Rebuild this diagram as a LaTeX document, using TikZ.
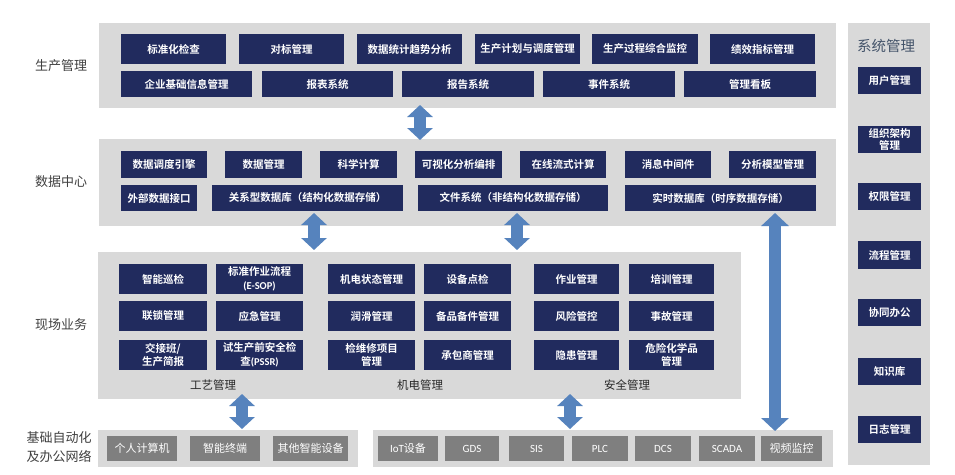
\documentclass[tikz,border=0pt]{standalone}
\usepackage{fontspec}
\setmainfont{Noto Sans CJK SC}[BoldFont={Noto Sans CJK SC Bold}]
\newfontfamily\lat{Carlito}
\usetikzlibrary{arrows.meta}
\definecolor{navy}{HTML}{212B5E}
\definecolor{panelc}{HTML}{D9D9D9}
\definecolor{grayb}{HTML}{7F7F7F}
\definecolor{arrowc}{HTML}{5683BD}
\definecolor{labc}{HTML}{404040}
\definecolor{sysc}{HTML}{44546A}
\newcommand\bx[7][nb]{\node[#1, minimum width={#5-#3}, minimum height={#6-#4}] (#2) at ({(#3+#5)/2},{(#4+#6)/2}) {#7};}
\begin{document}
\begin{tikzpicture}[x=1pt,y=-1pt,
  nb/.style={fill=navy, text=white, inner sep=0pt, align=center,
    font=\fontsize{10.5}{13.5}\selectfont\bfseries},
  panel/.style={fill=panelc, inner sep=0pt},
  gb/.style={fill=grayb, text=white, inner sep=0pt, align=center,
    font=\fontsize{11}{13}\selectfont},
  sidelab/.style={text=labc, align=center, font=\fontsize{13}{19}\selectfont},
  grplab/.style={text=black!85, font=\fontsize{11.5}{14}\selectfont},
  barr/.style={draw=arrowc, line width=12pt,
    {Triangle[width=25pt,length=12pt]}-{Triangle[width=25pt,length=12pt]}},
  barrbig/.style={draw=arrowc, line width=12.5pt,
    {Triangle[width=27pt,length=13pt]}-{Triangle[width=27pt,length=13pt]}}
]
\useasboundingbox[fill=white] (0,0) rectangle (955,474);

% ---------- panels ----------
\bx[panel]{pp}{99}{23}{836}{108}{}
\bx[panel]{dp}{99}{139}{836}{226}{}
\bx[panel]{fp}{98}{252}{741}{399}{}
\bx[panel]{blp}{98}{430}{358}{467}{}
\bx[panel]{brp}{373}{430}{833}{467}{}
\bx[panel]{sp}{848}{23}{930}{465}{}

% ---------- side labels ----------
\node[sidelab] (l1) at (61,66) {生产管理};
\node[sidelab] (l2) at (61,182) {数据中心};
\node[sidelab] (l3) at (61,325) {现场业务};
\node[sidelab] (l4) at (59,447) {基础自动化\\及办公网络};
\node[text=sysc, font=\fontsize{14.5}{17}\selectfont] (st) at (886,46) {系统管理};

% ---------- production ----------
\bx{p1}{121}{34}{226}{64}{标准化检查}
\bx{p2}{239}{34}{344}{64}{对标管理}
\bx{p3}{357}{34}{462}{64}{数据统计趋势分析}
\bx{p4}{475}{34}{580}{64}{生产计划与调度管理}
\bx{p5}{592}{34}{698}{64}{生产过程综合监控}
\bx{p6}{710}{34}{815}{64}{绩效指标管理}
\bx{p7}{121}{71}{252}{97}{企业基础信息管理}
\bx{p8}{262}{71}{393}{97}{报表系统}
\bx{p9}{402}{71}{534}{97}{报告系统}
\bx{p10}{543}{71}{675}{97}{事件系统}
\bx{p11}{684}{71}{816}{97}{管理看板}

% ---------- data center ----------
\bx{d1}{121}{151}{207}{178}{数据调度引擎}
\bx{d2}{225}{151}{302}{178}{数据管理}
\bx{d3}{320}{151}{397}{178}{科学计算}
\bx{d4}{415}{151}{502}{178}{可视化分析编排}
\bx{d5}{520}{151}{606}{178}{在线流式计算}
\bx{d6}{625}{151}{711}{178}{消息中间件}
\bx{d7}{729}{151}{816}{178}{分析模型管理}
\bx{d8}{121}{185}{197}{211}{外部数据接口}
\bx{d9}{212}{185}{403}{211}{关系型数据库（结构化数据存储）}
\bx{d10}{418}{185}{608}{211}{文件系统（非结构化数据存储）}
\bx{d11}{625}{185}{816}{211}{实时数据库（时序数据存储）}

% ---------- field ----------
\bx{f11}{119}{264}{207}{294}{智能巡检}
\bx{f12}{216}{264}{303}{294}{标准作业流程\\{\lat\bfseries (E-SOP)}}
\bx{f13}{328}{264}{415}{294}{机电状态管理}
\bx{f14}{424}{264}{511}{294}{设备点检}
\bx{f15}{534}{264}{619}{294}{作业管理}
\bx{f16}{629}{264}{714}{294}{培训管理}
\bx{f21}{119}{301}{207}{331}{联锁管理}
\bx{f22}{216}{301}{303}{331}{应急管理}
\bx{f23}{328}{301}{415}{331}{润滑管理}
\bx{f24}{424}{301}{511}{331}{备品备件管理}
\bx{f25}{534}{301}{619}{331}{风险管控}
\bx{f26}{629}{301}{714}{331}{事故管理}
\bx{f31}{119}{340}{207}{370}{交接班/\\生产简报}
\bx{f32}{216}{340}{303}{370}{试生产前安全检\\查{\lat\bfseries (PSSR)}}
\bx{f33}{328}{340}{415}{370}{检维修项目\\管理}
\bx{f34}{424}{340}{511}{370}{承包商管理}
\bx{f35}{534}{340}{619}{370}{隐患管理}
\bx{f36}{629}{340}{714}{370}{危险化学品\\管理}
\node[grplab] (g1) at (213,385) {工艺管理};
\node[grplab] (g2) at (420,385) {机电管理};
\node[grplab] (g3) at (627,385) {安全管理};

% ---------- bottom ----------
\bx[gb]{b1}{107}{436}{177}{461}{个人计算机}
\bx[gb]{b2}{190}{436}{260}{461}{智能终端}
\bx[gb]{b3}{273}{436}{348}{461}{其他智能设备}
\bx[gb]{c1}{378}{436}{438}{461}{{\lat IoT}设备}
\bx[gb]{c2}{445}{436}{499}{461}{\lat GDS}
\bx[gb]{c3}{509}{436}{564}{461}{\lat SIS}
\bx[gb]{c4}{572}{436}{628}{461}{\lat PLC}
\bx[gb]{c5}{635}{436}{691}{461}{\lat DCS}
\bx[gb]{c6}{699}{436}{755}{461}{\lat SCADA}
\bx[gb]{c7}{761}{436}{822}{461}{视频监控}

% ---------- system ----------
\bx{s1}{858}{67}{921}{94}{用户管理}
\bx{s2}{858}{126}{921}{153}{组织架构\\[-2pt]管理}
\bx{s3}{858}{183}{921}{210}{权限管理}
\bx{s4}{858}{241}{921}{269}{流程管理}
\bx{s5}{858}{299}{921}{326}{协同办公}
\bx{s6}{858}{358}{921}{385}{知识库}
\bx{s7}{858}{416}{921}{443}{日志管理}

% ---------- arrows ----------
\coordinate (a1t) at (420,105);  \coordinate (a1b) at (420,140);
\coordinate (a2t) at (314,213);  \coordinate (a2b) at (314,250);
\coordinate (a3t) at (517,213);  \coordinate (a3b) at (517,250);
\coordinate (a4t) at (775,213);  \coordinate (a4b) at (775,431);
\coordinate (a5t) at (242,394);  \coordinate (a5b) at (242,429);
\coordinate (a6t) at (570,394);  \coordinate (a6b) at (570,429);
\draw[barr] (a1t) -- (a1b);
\draw[barr] (a2t) -- (a2b);
\draw[barr] (a3t) -- (a3b);
\draw[barrbig] (a4t) -- (a4b);
\draw[barr] (a5t) -- (a5b);
\draw[barr] (a6t) -- (a6b);
\end{tikzpicture}
\end{document}
